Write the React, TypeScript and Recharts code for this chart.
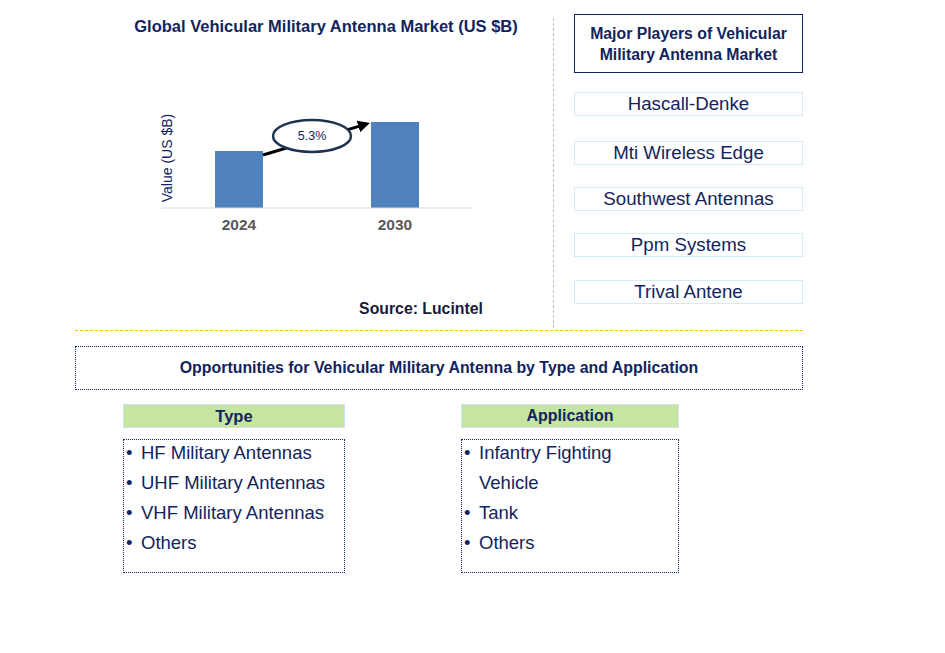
import React from 'react';
import { BarChart, Bar, XAxis, YAxis } from 'recharts';

const years = ['2024', '2030'];
const marketValues = [1.9, 2.87];
const cagrLabel = '5.3%';
const players = ['Hascall-Denke', 'Mti Wireless Edge', 'Southwest Antennas', 'Ppm Systems', 'Trival Antene'];
const typeItems = ['HF Military Antennas', 'UHF Military Antennas', 'VHF Military Antennas', 'Others'];
const applicationItems = ['Infantry Fighting Vehicle', 'Tank', 'Others'];

const NAVY = '#12245e';
const FONT = '"Liberation Sans", Arial, sans-serif';

// chart geometry (used for the overlay arrow too)
const CH_W = 500;
const CH_H = 250;
const M = { top: 88, right: 27, bottom: 12, left: 161 };
const X_AXIS_H = 30;
const Y_MAX = 4;
const BAR_SIZE = 48;

export default function App() {
  const data = years.map((y, i) => ({ year: y, value: marketValues[i] }));

  const plotW = CH_W - M.left - M.right;
  const plotH = CH_H - M.top - M.bottom - X_AXIS_H;
  const band = plotW / years.length;
  const cx = (i: number) => M.left + band * (i + 0.5);
  const topY = (v: number) => M.top + plotH * (1 - v / Y_MAX);

  const x0 = cx(0) + BAR_SIZE / 2;
  const y0 = topY(marketValues[0]) + 4;
  const x1 = cx(1) - BAR_SIZE / 2;
  const y1 = topY(marketValues[1]) + 1;
  const ex = (x0 + x1) / 2 - 5;
  const ey = (y0 + y1) / 2 - 3;

  const box = (extra: React.CSSProperties): React.CSSProperties => ({
    position: 'absolute',
    boxSizing: 'border-box',
    ...extra,
  });

  const listItem = (t: string, i: number, textWidth?: number) => (
    <div key={i} style={{ display: 'flex', lineHeight: '30px', fontSize: 18.5, color: NAVY }}>
      <span style={{ width: 15, paddingLeft: 2, flexShrink: 0 }}>•</span>
      <span style={{ width: textWidth }}>{t}</span>
    </div>
  );

  return (
    <div style={{ position: 'absolute', left: 0, top: 0, width: 945, height: 653, background: '#fff', fontFamily: FONT, overflow: 'hidden' }}>
      <div style={box({ left: 76, top: 17, width: 500, textAlign: 'center', fontSize: 16.5, fontWeight: 'bold', color: NAVY })}>
        Global Vehicular Military Antenna Market (US $B)
      </div>

      <div style={{ position: 'absolute', left: 0, top: 0 }}>
        <BarChart width={CH_W} height={CH_H} data={data} margin={M} barCategoryGap={0}>
          <XAxis
            dataKey="year"
            axisLine={{ stroke: '#d9d9d9' }}
            tickLine={false}
            height={X_AXIS_H}
            dy={3}
            tick={{ fill: '#595959', fontSize: 15.5, fontWeight: 'bold', fontFamily: FONT }}
          />
          <YAxis hide domain={[0, Y_MAX]} />
          <Bar dataKey="value" fill="#4f81bd" barSize={BAR_SIZE} isAnimationActive={false} />
        </BarChart>
      </div>

      <svg width={CH_W} height={CH_H} style={{ position: 'absolute', left: 0, top: 0 }}>
        <defs>
          <marker id="ah" markerWidth="4" markerHeight="4" refX="3" refY="2" orient="auto">
            <path d="M0,0 L4,2 L0,4 z" fill="#000" />
          </marker>
        </defs>
        <text
          x={172}
          y={M.top + plotH / 2 + 10}
          transform={`rotate(-90 172 ${M.top + plotH / 2 + 10})`}
          textAnchor="middle"
          fontSize={14}
          fontFamily={FONT}
          fill={NAVY}
        >
          Value (US $B)
        </text>
        <line x1={x0} y1={y0} x2={x1 - 4} y2={y1 + 1} stroke="#000" strokeWidth={3} markerEnd="url(#ah)" />
        <ellipse cx={ex} cy={ey} rx={39} ry={16} fill="#fff" stroke="#1f3350" strokeWidth={2.5} />
        <text x={ex} y={ey + 4} textAnchor="middle" fontSize={12.5} fontFamily={FONT} fill={NAVY}>
          {cagrLabel}
        </text>
      </svg>

      <div style={box({ left: 300, top: 300, width: 242, textAlign: 'center', fontSize: 15.8, fontWeight: 'bold', color: '#1a1a3a' })}>
        Source: Lucintel
      </div>

      <div style={box({ left: 553, top: 18, height: 310, borderLeft: '1px dashed #bfbfbf' })} />
      <div style={box({ left: 75, top: 330, width: 728, borderTop: '1px dashed #ffc000' })} />

      <div
        style={box({
          left: 574, top: 14, width: 229, height: 59, border: `1.5px solid ${NAVY}`,
          display: 'flex', alignItems: 'center', justifyContent: 'center', textAlign: 'center',
          fontSize: 15.8, fontWeight: 'bold', color: NAVY, lineHeight: '21px',
        })}
      >
        Major Players of Vehicular<br />Military Antenna Market
      </div>

      {players.map((p, i) => (
        <div
          key={p}
          style={box({
            left: 574, top: [92, 141, 187, 233, 280][i], width: 229, height: 24,
            border: '1.5px solid #d6eaf5', textAlign: 'center', fontSize: 18.7, lineHeight: '22px', color: NAVY,
          })}
        >
          {p}
        </div>
      ))}

      <div
        style={box({
          left: 75, top: 346, width: 728, height: 44, border: `1.5px dotted ${NAVY}`,
          display: 'flex', alignItems: 'center', justifyContent: 'center',
          fontSize: 15.9, fontWeight: 'bold', color: NAVY,
        })}
      >
        Opportunities for Vehicular Military Antenna by Type and Application
      </div>

      <div style={box({ left: 123, top: 404, width: 222, height: 24, background: '#c6e5a0', border: '1px solid #cde3f0', textAlign: 'center', fontSize: 16.5, fontWeight: 'bold', lineHeight: '22px', color: NAVY })}>
        Type
      </div>
      <div style={box({ left: 123, top: 439, width: 222, height: 134, border: `1.5px dotted ${NAVY}` })}>
        <div style={{ marginTop: -2 }}>{typeItems.map((t, i) => listItem(t, i))}</div>
      </div>

      <div style={box({ left: 461, top: 404, width: 218, height: 24, background: '#c6e5a0', border: '1px solid #cde3f0', textAlign: 'center', fontSize: 16, fontWeight: 'bold', lineHeight: '22px', color: NAVY })}>
        Application
      </div>
      <div style={box({ left: 461, top: 439, width: 218, height: 134, border: `1.5px dotted ${NAVY}` })}>
        <div style={{ marginTop: -2 }}>{applicationItems.map((t, i) => listItem(t, i, 160))}</div>
      </div>
    </div>
  );
}
